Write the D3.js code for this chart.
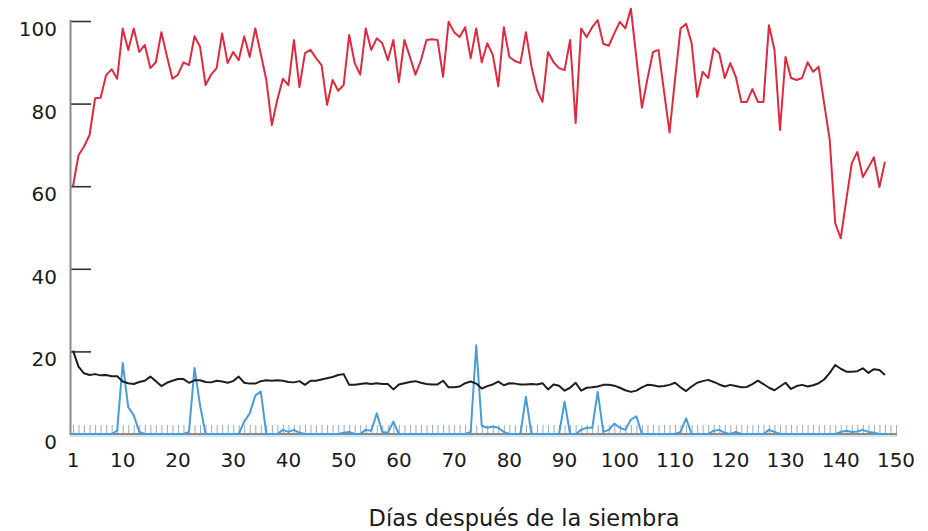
<!DOCTYPE html>
<html>
<head>
<meta charset="utf-8">
<script src="https://cdn.jsdelivr.net/npm/d3@7"></script>
<style>
  html, body { margin: 0; padding: 0; background: #fff; }
  svg { display: block; }
  text { font-family: "DejaVu Sans", Verdana, sans-serif; fill: #1a1a1a; }
</style>
</head>
<body>
<svg id="chart" width="928" height="531"></svg>
<script>
// ---- data ----
const redSeries = [
  60, 67.5, 69.6, 72.4, 81.3, 81.4, 86.9, 88.3, 86, 98.2,
  93, 98.2, 92.5, 94.2, 88.6, 90, 97.3, 91.5, 86, 87,
  90, 89.3, 96.3, 93.8, 84.5, 87, 88.6, 97, 89.8, 92.5,
  90.5, 96.3, 91.3, 98.2, 92, 85.7, 74.8, 81, 86, 84.5,
  95.4, 84, 92.2, 93, 91, 89.3, 79.7, 85.7, 83.1, 84.5,
  96.6, 89.8, 87, 98.2, 93, 95.8, 94.6, 90.5, 95.4, 85.2,
  95.4, 91.3, 87, 90.5, 95.4, 95.6, 95.4, 86.5, 99.8, 97.3,
  96.1, 98.5, 91, 98.2, 90, 94.6, 91.8, 84.2, 98.5, 91.3,
  90.3, 89.8, 97.3, 89, 83.3, 80.4, 92.5, 90, 88.6, 88.1,
  95.4, 75.3, 98.2, 96.1, 98.5, 100.2, 94.5, 94, 97, 99.8,
  98.2, 103, 91, 79, 86, 92.5, 93, 83, 73, 86,
  98.2, 99.3, 94.6, 81.6, 87.7, 86.2, 93.4, 92.2, 86.2, 89.8,
  86.5, 80.4, 80.4, 83.5, 80.4, 80.4, 99, 93, 73.6, 91.3,
  86.2, 85.7, 86.2, 90, 87.7, 88.9, 80, 71.2, 51, 47.4,
  56.7, 65.6, 68.3, 62.2, 64.5, 67, 59.8, 65.9
];
const blackSeries = [
  20.2, 16.3, 14.7, 14.3, 14.5, 14.2, 14.3, 14, 14, 12.7,
  12.3, 12.1, 12.6, 12.9, 13.9, 12.8, 11.6, 12.4, 12.9, 13.3,
  13.3, 12.4, 13, 13, 12.6, 12.5, 12.9, 12.7, 12.4, 12.8,
  13.9, 12.4, 12.2, 12.2, 12.8, 13, 12.9, 13, 12.9, 12.6,
  12.5, 12.8, 11.9, 12.9, 12.9, 13.2, 13.5, 13.8, 14.3, 14.5,
  11.9, 11.9, 12.1, 12.3, 12.1, 12.3, 12.1, 12.1, 10.8, 12,
  12.3, 12.6, 12.8, 12.4, 12.1, 12, 12, 12.9, 11.3, 11.3,
  11.5, 12.3, 12.7, 12.2, 11, 11.6, 12, 12.7, 11.8, 12.3,
  12.2, 12, 12, 12.1, 12, 12.3, 10.8, 12, 11.7, 10.5,
  11.2, 12.4, 10.5, 11.2, 11.3, 11.5, 11.9, 11.9, 11.7, 11.2,
  10.6, 10.2, 10.5, 11.3, 11.9, 11.8, 11.5, 11.6, 11.9, 12.4,
  11.3, 10.4, 11.5, 12.4, 12.8, 13.1, 12.6, 12, 11.5, 11.9,
  11.6, 11.3, 11.4, 12.1, 12.9, 12.1, 11.2, 10.6, 11.5, 12.4,
  10.9, 11.6, 11.9, 11.5, 11.8, 12.3, 13.2, 14.8, 16.7, 15.8,
  15.1, 15.1, 15.2, 15.9, 14.8, 15.7, 15.5, 14.3
];
const blueSeries = [
  0, 0, 0, 0, 0, 0, 0, 0, 0.8, 17.2,
  6.5, 4.5, 0.5, 0, 0, 0, 0, 0, 0, 0,
  0, 0.5, 16, 7, 0, 0, 0, 0, 0, 0,
  0, 3, 5, 9.3, 10.3, 0, 0, 0, 1, 0.5,
  1, 0.3, 0, 0, 0, 0, 0, 0, 0, 0.3,
  0.5, 0, 0, 1, 0.8, 5, 0.5, 0.3, 3, 0,
  0, 0, 0, 0, 0, 0, 0, 0, 0, 0,
  0, 0, 0.5, 21.5, 2, 1.5, 1.8, 1.5, 0.5, 0,
  0, 0, 9, 0, 0, 0, 0, 0, 0, 7.8,
  0, 0, 1, 1.5, 1.5, 10.2, 0.5, 1, 2.5, 1.5,
  1, 3.5, 4.3, 0, 0, 0, 0, 0, 0, 0,
  0.5, 3.8, 0, 0, 0, 0, 0.8, 1, 0.3, 0,
  0.5, 0, 0, 0, 0, 0, 1, 0.5, 0, 0,
  0, 0, 0, 0, 0, 0, 0, 0, 0, 0.5,
  0.8, 0.5, 0.6, 1, 0.5, 0.3, 0, 0
];
const xTickLabels = [1, 10, 20, 30, 40, 50, 60, 70, 80, 90, 100, 110, 120, 130, 140, 150];
const yTickValues = [0, 20, 40, 60, 80, 100];
const xTitle = "Días después de la siembra";
const dayDomain = [1, 150];

// ---- drawing ----
const svg = d3.select("#chart");
const x = d3.scaleLinear().domain(dayDomain).range([73, 896]);
const y = d3.scaleLinear().domain([0, 100]).range([434, 21]);

// per-day hatch marks along the x axis
const hatchDays = d3.range(dayDomain[0], dayDomain[1] + 1);
const xMinor = d3.axisTop(x).tickValues(hatchDays).tickSize(8).tickFormat("");
const gMinor = svg.append("g").attr("transform", "translate(0,433)").call(xMinor);
gMinor.select(".domain").remove();
gMinor.selectAll(".tick line").attr("stroke", "#97abc0").attr("stroke-width", 1);

// y axis: inward ticks
const yAxis = d3.axisRight(y).tickValues(yTickValues.filter(v => v > 0)).tickSize(21).tickFormat("");
const gY = svg.append("g").attr("transform", "translate(70,0)").call(yAxis);
gY.select(".domain").remove();
gY.selectAll(".tick line").attr("stroke", "#333").attr("stroke-width", 1.6);

// axis lines
svg.append("line").attr("x1", 70.5).attr("x2", 70.5).attr("y1", y(100) - 1).attr("y2", y(0) + 1)
  .attr("stroke", "#8a8a8a").attr("stroke-width", 2);
svg.append("line").attr("x1", 70).attr("x2", x(150) + 1).attr("y1", y(0)).attr("y2", y(0))
  .attr("stroke", "#8a8a8a").attr("stroke-width", 2);
// faint blue baseline just under the axis
svg.append("line").attr("x1", 70).attr("x2", x(150) + 1).attr("y1", y(0) + 2).attr("y2", y(0) + 2)
  .attr("stroke", "#bcdcf2").attr("stroke-width", 1.5);

// y labels
svg.append("g").selectAll("text").data(yTickValues).join("text")
  .attr("x", 57).attr("y", d => y(d) + 15)
  .attr("text-anchor", "end").attr("font-size", 20)
  .text(d => d);

// x labels
svg.append("g").selectAll("text").data(xTickLabels).join("text")
  .attr("x", d => x(d)).attr("y", 467)
  .attr("text-anchor", "middle").attr("font-size", 20)
  .text(d => d);

// x title
svg.append("text").attr("x", 524).attr("y", 526)
  .attr("text-anchor", "middle").attr("font-size", 22.5)
  .text(xTitle);

// series
const line = d3.line().x((d, i) => x(i + 1)).y(d => y(d));
svg.append("path").datum(blueSeries).attr("d", line)
  .attr("fill", "none").attr("stroke", "#4b9bd6").attr("stroke-width", 2).attr("stroke-linejoin", "round");
svg.append("path").datum(blackSeries).attr("d", line)
  .attr("fill", "none").attr("stroke", "#1e1e1e").attr("stroke-width", 2).attr("stroke-linejoin", "round");
svg.append("path").datum(redSeries).attr("d", line)
  .attr("fill", "none").attr("stroke", "#dc2b40").attr("stroke-width", 2).attr("stroke-linejoin", "round");
</script>
</body>
</html>
